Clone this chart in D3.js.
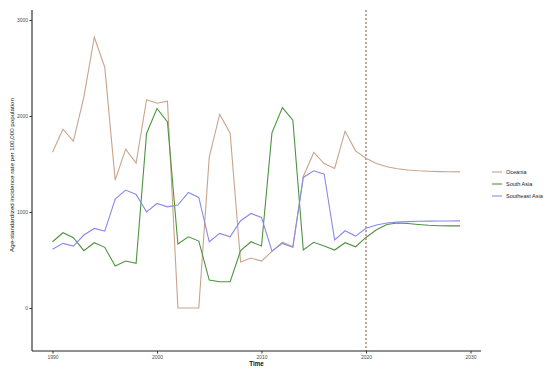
<!DOCTYPE html>
<html>
<head>
<meta charset="utf-8">
<script src="https://cdn.jsdelivr.net/npm/d3@7"></script>
<style>
  body { margin: 0; background: #fff; }
  text { font-family: "Liberation Sans", Arial, sans-serif; }
</style>
</head>
<body>
<svg id="chart" width="550" height="371"></svg>
<script>
// data
const years = d3.range(1990, 2030);
const regions = ["Oceania", "South Asia", "Southeast Asia"];
const oceania = [1623, 1863, 1738, 2196, 2820, 2508, 1332, 1655, 1509, 2170,
  2133, 2154, 0, 0, 0, 1571, 2019, 1821, 479, 520,
  489, 590, 685, 638, 1370, 1620, 1505, 1453, 1842, 1637,
  1560, 1505, 1472, 1450, 1437, 1429, 1424, 1421, 1419, 1418];
const southAsia = [690, 784, 732, 597, 680, 632, 437, 489, 465, 1818,
  2078, 1939, 666, 742, 697, 291, 274, 274, 597, 690,
  645, 1824, 2088, 1956, 604, 684, 645, 604, 680, 638,
  735, 815, 870, 885, 880, 870, 862, 857, 855, 855];
const southeastAsia = [611, 673, 645, 760, 829, 801, 1134, 1228, 1183, 1002,
  1089, 1054, 1072, 1204, 1152, 690, 777, 742, 909, 985,
  944, 593, 673, 632, 1360, 1429, 1394, 708, 805, 749,
  830, 865, 885, 895, 900, 903, 905, 906, 907, 908];
const xTicks = [1990, 2000, 2010, 2020, 2030];
const yTicks = [0, 1000, 2000, 3000];
const cutYear = 2020;

const colours = { "Oceania": "#c9a48c", "South Asia": "#4e9440", "Southeast Asia": "#8a8ae6" };
const seriesValues = { "Oceania": oceania, "South Asia": southAsia, "Southeast Asia": southeastAsia };

const svg = d3.select("#chart");
const plotLeft = 32, plotRight = 481, plotTop = 10, plotBottom = 351;

const x = d3.scaleLinear().domain([1990, 2030]).range([52.5, 470.5]);
const y = d3.scaleLinear().domain([0, 3000]).range([308, 20]);

// axes
const xAxis = svg.append("g")
    .attr("transform", `translate(0,${plotBottom})`)
    .call(d3.axisBottom(x).tickValues(xTicks).tickFormat(d3.format("d")).tickSize(2.5).tickPadding(1.5));
xAxis.select(".domain").attr("d", `M${plotLeft},0H${plotRight}`).attr("stroke", "#222").attr("stroke-width", 1.1);

const yAxis = svg.append("g")
    .attr("transform", `translate(${plotLeft},0)`)
    .call(d3.axisLeft(y).tickValues(yTicks).tickFormat(d3.format("d")).tickSize(2.5).tickPadding(1.5));
yAxis.select(".domain").attr("d", `M0,${plotTop}V${plotBottom}`).attr("stroke", "#222").attr("stroke-width", 1.1);

svg.selectAll(".tick line").attr("stroke", "#333");
svg.selectAll(".tick text").attr("fill", "#4d4d4d").style("font-size", "5px");

// reference line at 2020
svg.append("line")
    .attr("x1", x(cutYear)).attr("x2", x(cutYear))
    .attr("y1", plotTop).attr("y2", plotBottom)
    .attr("stroke", "#8b3a1a")
    .attr("stroke-width", 0.9)
    .attr("stroke-dasharray", "2,2");

// series lines
const line = d3.line()
    .x((d, i) => x(years[i]))
    .y(d => y(d));

regions.forEach(r => {
  svg.append("path")
      .datum(seriesValues[r])
      .attr("fill", "none")
      .attr("stroke", colours[r])
      .attr("stroke-width", 1.1)
      .attr("d", line);
});

// axis titles
svg.append("text")
    .attr("x", (plotLeft + plotRight) / 2)
    .attr("y", 366)
    .attr("text-anchor", "middle")
    .style("font-size", "6.3px")
    .style("font-weight", "bold")
    .attr("fill", "#111")
    .text("Time");

svg.append("text")
    .attr("transform", `translate(13.5,175) rotate(-90)`)
    .attr("text-anchor", "middle")
    .style("font-size", "6.2px")
    .attr("fill", "#111")
    .text("Age-standardized incidence rate per 100,000 population");

// legend
const legend = svg.append("g").attr("transform", "translate(492,172)");
regions.forEach((r, i) => {
  const g = legend.append("g").attr("transform", `translate(0,${i * 12})`);
  g.append("line").attr("x1", 0).attr("x2", 10).attr("y1", 0).attr("y2", 0)
      .attr("stroke", colours[r]).attr("stroke-width", 1.1);
  g.append("text").attr("x", 14).attr("y", 2)
      .style("font-size", "5.5px").attr("fill", "#222").text(r);
});
</script>
</body>
</html>
